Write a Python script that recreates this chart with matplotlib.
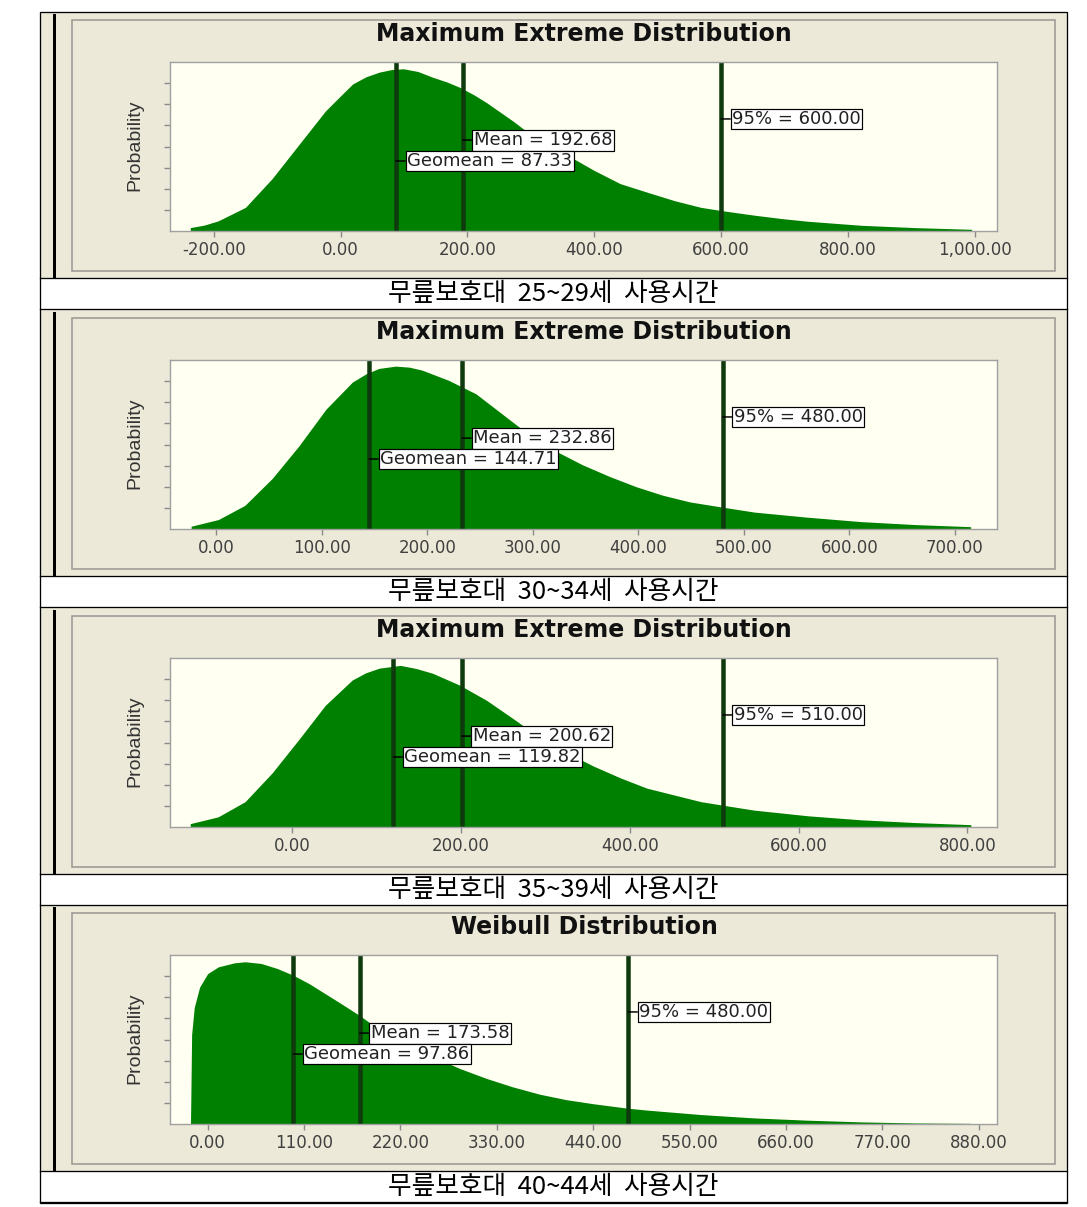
import matplotlib
matplotlib.use('Agg')
import matplotlib.pyplot as plt
from matplotlib.patches import Rectangle

# Curve heights (units = y tick spacing, 8 per plot)
x_25_29 = [-237, -215, -193, -150, -108, -66, -24, 0, 19, 40, 61, 80, 99, 122, 145, 168, 188, 210, 230, 272,
           314, 357, 399, 441, 483, 526, 568, 602, 652, 695, 737, 821, 906, 995]
y_25_29 = [0.16, 0.28, 0.48, 1.12, 2.48, 4.08, 5.68, 6.40, 6.96, 7.30, 7.52, 7.64, 7.68, 7.55, 7.28, 7.05, 6.8, 6.45,
           6.08, 5.2, 4.24, 3.6, 2.88, 2.24, 1.84, 1.44, 1.12, 0.96, 0.75, 0.59, 0.46, 0.27, 0.16, 0.08]

x_30_34 = [-24, 2, 27, 53, 78, 104, 129, 142, 154, 170, 183, 195, 220, 246, 271, 296, 322, 347, 373, 398,
           423, 449, 479, 510, 560, 611, 662, 715]
y_30_34 = [0.13, 0.45, 1.12, 2.4, 3.92, 5.68, 6.96, 7.35, 7.6, 7.71, 7.66, 7.52, 7.04, 6.4, 5.44, 4.48, 3.68, 3.04,
           2.48, 2.0, 1.6, 1.28, 1.04, 0.8, 0.56, 0.35, 0.21, 0.11]

x_35_39 = [-121, -88, -56, -24, 8, 39, 71, 87, 103, 128, 147, 166, 198, 230, 262, 293, 325, 357, 389, 420,
           452, 484, 509, 547, 611, 674, 738, 804]
y_35_39 = [0.16, 0.48, 1.2, 2.56, 4.16, 5.76, 6.96, 7.3, 7.52, 7.65, 7.5, 7.28, 6.72, 6.0, 5.12, 4.24, 3.52, 2.88,
           2.32, 1.84, 1.52, 1.2, 1.04, 0.8, 0.53, 0.34, 0.21, 0.11]

x_40_44 = [-19.6, -18.3, -15.3, -9.2, 0, 12.2, 30.6, 42.8, 61, 79.5, 97.8, 116, 134.5, 153, 174, 195.6,
           226, 257, 287, 318, 348, 379, 409.5, 440, 479, 501, 562, 623, 685, 746, 807, 871]
y_40_44 = [0, 4.24, 5.52, 6.48, 7.12, 7.44, 7.63, 7.68, 7.6, 7.36, 7.04, 6.64, 6.16, 5.68, 5.12, 4.48,
           3.76, 3.2, 2.64, 2.16, 1.76, 1.41, 1.15, 0.96, 0.75, 0.66, 0.45, 0.29, 0.18, 0.1, 0.05, 0.03]

titles = ['Maximum Extreme Distribution', 'Maximum Extreme Distribution',
          'Maximum Extreme Distribution', 'Weibull Distribution']
captions = ['무릎보호대  25~29세  사용시간', '무릎보호대  30~34세  사용시간',
            '무릎보호대  35~39세  사용시간', '무릎보호대  40~44세  사용시간']
means = [192.68, 232.86, 200.62, 173.58]
geomeans = [87.33, 144.71, 119.82, 97.86]
pct95 = [600.00, 480.00, 510.00, 480.00]
xticks = [
    [-200, 0, 200, 400, 600, 800, 1000],
    [0, 100, 200, 300, 400, 500, 600, 700],
    [0, 200, 400, 600, 800],
    [0, 110, 220, 330, 440, 550, 660, 770, 880],
]
xlims = [(-269, 1035), (-44, 740), (-145, 835), (-43, 901)]

W, H = 1087, 1207
PX = 0.72  # points per pixel at dpi 100
panel_tops = [12, 310, 608, 905]

BEIGE = '#ECE9D8'
PLOT_BG = '#FFFFF2'
FILL = '#008000'
LINE = '#0E3A0E'


def draw_panel(fig, bg, i, xs, ys):
    T = panel_tops[i]

    # screenshot area + caption row
    bg.add_patch(Rectangle((40, T), 1027, 266, fc=BEIGE, ec='none', zorder=0))
    bg.plot([53.5, 53.5], [T + 3, T + 264], color='black', lw=3 * PX, zorder=2)
    bg.add_patch(Rectangle((72, T + 8), 983, 251, fc='none', ec='#9C9A94', lw=1.6 * PX, zorder=1))
    bg.plot([40, 1067], [T + 266, T + 266], color='black', lw=1.3 * PX, zorder=3)
    bg.plot([40, 1067], [T + 297, T + 297], color='black', lw=1.3 * PX, zorder=3)

    bg.text(584, T + 22, titles[i], ha='center', va='center', fontsize=17,
            fontweight='bold', family='DejaVu Sans', color='#111111')
    bg.text(135, T + 133, 'Probability', rotation=90, ha='center', va='center',
            fontsize=14, family='Liberation Sans', color='#333333')
    bg.text(553.5, T + 282, captions[i], ha='center', va='center', fontsize=18.5,
            family=['Noto Sans CJK KR', 'DejaVu Sans'], color='black')

    ax = fig.add_axes([170 / W, 1 - (T + 219) / H, 827 / W, 169 / H])
    ax.set_facecolor(PLOT_BG)
    ax.fill_between(xs, 0, ys, color=FILL, lw=0)
    for v in (geomeans[i], means[i], pct95[i]):
        ax.axvline(v, color=LINE, lw=4.5 * PX)

    ax.set_xlim(*xlims[i])
    ax.set_ylim(0, 8)
    ax.set_yticks(range(1, 8))
    ax.set_yticklabels([])
    ax.set_xticks(xticks[i])
    ax.set_xticklabels([f'{t:,.2f}' for t in xticks[i]])
    ax.tick_params(axis='both', direction='out', color='#8A8A8A', length=6 * PX, width=1)
    ax.tick_params(axis='x', labelsize=12, labelcolor='#404040', pad=3)
    for s in ax.spines.values():
        s.set_color('#A0A0A0')
        s.set_linewidth(1)

    labels = [
        (pct95[i], f'95% = {pct95[i]:.2f}', 0.663),
        (means[i], f'Mean = {means[i]:.2f}', 0.538),
        (geomeans[i], f'Geomean = {geomeans[i]:.2f}', 0.414),
    ]
    for val, txt, yf in labels:
        ax.annotate(txt, xy=(val, yf), xycoords=('data', 'axes fraction'),
                    xytext=(11, 0), textcoords='offset pixels', ha='left', va='center',
                    fontsize=13, family='DejaVu Sans', color='#222222',
                    bbox=dict(boxstyle='square,pad=0.08', fc='white', ec='black', lw=1.2 * PX),
                    arrowprops=dict(arrowstyle='-', color='black', lw=1.5 * PX,
                                    shrinkA=0, shrinkB=0),
                    annotation_clip=False)


def main():
    fig = plt.figure(figsize=(W / 100, H / 100), dpi=100)
    fig.patch.set_facecolor('white')
    bg = fig.add_axes([0, 0, 1, 1])
    bg.set_xlim(0, W)
    bg.set_ylim(H, 0)
    bg.axis('off')

    series = [(x_25_29, y_25_29), (x_30_34, y_30_34), (x_35_39, y_35_39), (x_40_44, y_40_44)]
    for i, (xs, ys) in enumerate(series):
        draw_panel(fig, bg, i, xs, ys)

    # outer table border
    bg.add_patch(Rectangle((40, 12), 1027, 1191, fc='none', ec='black', lw=1.3 * PX, zorder=3))

    fig.savefig('out.png', dpi=100)
    plt.close(fig)


if __name__ == '__main__':
    main()
